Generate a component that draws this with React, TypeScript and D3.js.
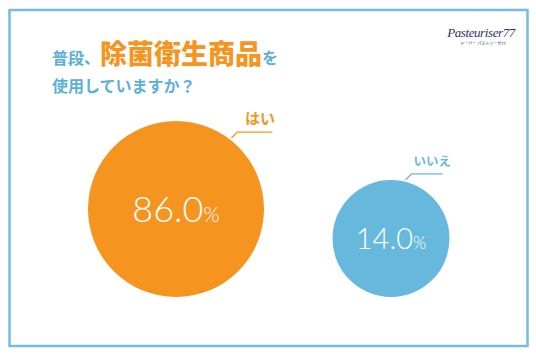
import React from "react";
import * as d3 from "d3";

const categories = ["はい", "いいえ"];
const values = [86.0, 14.0];
const titleParts = [
  { text: "普段、", emph: false },
  { text: "除菌衛生商品", emph: true },
  { text: "を", emph: false },
];
const titleLine2 = "使用していますか？";

const W = 536;
const H = 357;
const ORANGE = "#F5951F";
const BLUE = "#67B8DD";
const TITLE_BLUE = "#5BB0DA";
const BORDER = "#74BDE0";
const JP = "'Noto Sans CJK JP', 'Noto Sans', sans-serif";
const NUM = "Lato, 'Open Sans', sans-serif";

const colors = [ORANGE, BLUE];
// layout per category (label leader angle in degrees, label font size, number size)
const layout = [
  { angle: -52, lineLen: 35, labelSize: 15, numSize: 36, pctSize: 21 },
  { angle: -76, lineLen: 31, labelSize: 12.5, numSize: 29, pctSize: 17 },
];

export default function App() {
  const x = d3.scalePoint<string>().domain(categories).range([176, 391]);
  const r = d3.scaleLinear().domain([14, 86]).range([58.5, 88]);
  const baseY = 297;

  return (
    <div style={{ position: "fixed", left: 0, top: 0, width: W, height: H, background: "#fff" }}>
      <svg width={W} height={H} style={{ display: "block" }}>
        <rect x={0} y={0} width={W} height={H} fill="#fff" />
        <rect x={9.5} y={10} width={518} height={336} fill="none" stroke={BORDER} strokeWidth={2.5} />

        {/* title */}
        <text x={52} y={64} fontFamily={JP} fontWeight={700} fill={TITLE_BLUE}>
          {titleParts.map((p, i) => (
            <tspan
              key={i}
              fontSize={p.emph ? 27 : 16}
              fill={p.emph ? ORANGE : TITLE_BLUE}
              fontWeight={p.emph ? 900 : 700}
            >
              {p.text}
            </tspan>
          ))}
        </text>
        <text x={52} y={92} fontFamily={JP} fontWeight={700} fontSize={16} fill={TITLE_BLUE}>
          {titleLine2}
        </text>

        {/* logo */}
        <text
          x={481}
          y={37}
          textAnchor="middle"
          fontFamily="'Liberation Serif', serif"
          fontStyle="italic"
          fontSize={13}
          fill="#2b2f6b"
          letterSpacing={-0.4}
        >
          Pasteuriser77
        </text>
        <text x={483} y={44.5} textAnchor="middle" fontFamily={JP} fontSize={4} fill="#2b2f6b">
          ドーバー パストリーゼ77
        </text>

        {categories.map((c, i) => {
          const cx = x(c)!;
          const rad = r(values[i]);
          const cy = baseY - rad;
          const L = layout[i];
          const a = (L.angle * Math.PI) / 180;
          const p0x = cx + (rad + 2) * Math.cos(a);
          const p0y = cy + (rad + 2) * Math.sin(a);
          const p1x = p0x + 6;
          const p1y = p0y - 6;
          const p2x = p1x + L.lineLen;
          return (
            <g key={c}>
              <circle cx={cx} cy={cy} r={rad} fill={colors[i]} />
              <polyline
                points={`${p0x},${p0y} ${p1x},${p1y} ${p2x},${p1y}`}
                fill="none"
                stroke={colors[i]}
                strokeWidth={1.3}
              />
              <text
                x={(p1x + p2x) / 2 + 5}
                y={p1y - 8}
                textAnchor="middle"
                fontFamily={JP}
                fontWeight={700}
                fontSize={L.labelSize}
                fill={colors[i]}
              >
                {c}
              </text>
              <text
                x={cx}
                y={cy + L.numSize * 0.36}
                textAnchor="middle"
                fontFamily={NUM}
                fontWeight={300}
                fill="#fff"
              >
                <tspan fontSize={L.numSize}>{values[i].toFixed(1)}</tspan>
                <tspan fontSize={L.pctSize}>%</tspan>
              </text>
            </g>
          );
        })}
      </svg>
    </div>
  );
}
